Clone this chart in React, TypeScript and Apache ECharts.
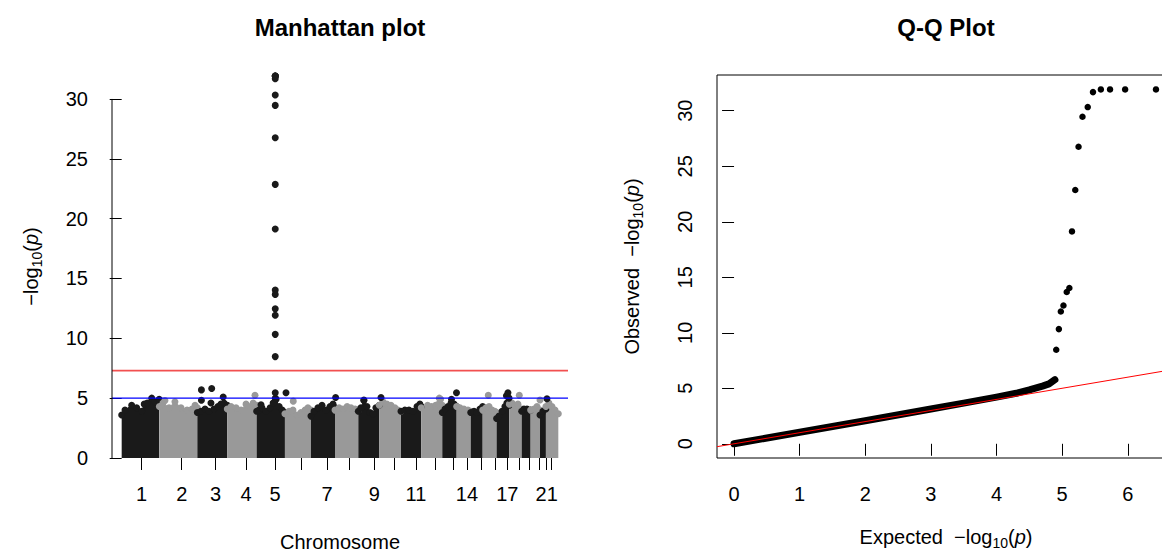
import { useEffect, useRef } from "react";
import * as echarts from "echarts";

// ---------------- Manhattan plot data ----------------
// chromosome tick positions (cumulative Mb) and their printed labels
const chrTickMb = [132, 397, 621, 822, 1013, 1185, 1357, 1504, 1670, 1800, 1945, 2075, 2192, 2282, 2377, 2469, 2549, 2626, 2694, 2758, 2809, 2839];
const chrTickLabels = ["1", "2", "3", "4", "5", "", "7", "", "9", "", "11", "", "", "14", "", "", "17", "", "", "", "21", ""];

// upper outline of the dense SNP cloud per chromosome: [cumulative Mb, -log10(p)]
const chr1Top = [[0, 3.6], [22, 4.0], [66, 4.4], [99, 4.2], [132, 3.9], [149, 4.5], [169, 4.6], [198, 5.0], [220, 4.7], [248, 4.9]];
const chr2Top = [[249, 4.3], [273, 4.6], [313, 4.2], [352, 4.7], [392, 4.2], [432, 4.0], [465, 4.1], [485, 4.4], [500, 4.2]];
const chr3Top = [[500, 3.8], [524, 3.9], [551, 4.1], [577, 3.9], [610, 4.1], [636, 4.3], [656, 4.5], [676, 4.6], [698, 4.4]];
const chr4Top = [[698, 4.1], [723, 4.3], [756, 4.2], [789, 4.0], [822, 4.5], [849, 4.3], [869, 4.6], [892, 4.4]];
const chr5Top = [[892, 3.9], [908, 4.0], [927, 4.2], [954, 3.9], [981, 4.2], [1001, 4.6], [1021, 4.9], [1041, 4.3], [1061, 4.0], [1079, 3.8]];
const chr6Top = [[1079, 3.7], [1106, 3.9], [1132, 4.0], [1159, 3.6], [1185, 3.8], [1212, 4.0], [1231, 4.2], [1251, 4.0]];
const chr7Top = [[1251, 3.5], [1271, 3.9], [1297, 4.2], [1324, 4.4], [1350, 4.0], [1377, 4.3], [1397, 4.5], [1410, 4.2]];
const chr8Top = [[1410, 4.0], [1437, 4.2], [1463, 4.1], [1490, 4.3], [1516, 4.2], [1543, 4.1], [1564, 4.0]];
const chr9Top = [[1564, 3.9], [1581, 4.2], [1601, 4.8], [1621, 4.3], [1641, 3.8], [1661, 3.7], [1680, 4.2], [1703, 4.4]];
const chr10Top = [[1703, 4.4], [1727, 4.7], [1753, 4.5], [1780, 4.4], [1806, 4.2], [1826, 4.0], [1846, 3.9]];
const chr11Top = [[1846, 3.9], [1872, 4.0], [1899, 4.0], [1925, 3.9], [1952, 4.3], [1971, 4.5], [1980, 4.3]];
const chr12Top = [[1980, 4.2], [2022, 4.4], [2048, 4.3], [2075, 4.4], [2095, 4.5], [2108, 4.9], [2119, 4.4]];
const chr13Top = [[2119, 3.8], [2137, 4.1], [2157, 4.3], [2177, 4.6], [2197, 4.5], [2214, 4.3]];
const chr14Top = [[2214, 4.3], [2236, 4.2], [2262, 4.1], [2289, 4.0], [2307, 3.9]];
const chr15Top = [[2307, 3.8], [2329, 3.9], [2348, 3.8], [2368, 4.1], [2386, 4.3]];
const chr16Top = [[2386, 4.0], [2408, 4.2], [2428, 4.3], [2448, 4.0], [2467, 3.9], [2478, 3.8]];
const chr17Top = [[2478, 3.3], [2494, 3.5], [2514, 3.9], [2533, 4.3], [2546, 4.6], [2562, 4.4]];
const chr18Top = [[2562, 4.5], [2580, 4.6], [2599, 4.4], [2619, 4.5], [2644, 4.1]];
const chr19Top = [[2644, 3.9], [2659, 4.1], [2679, 4.1], [2703, 4.0]];
const chr20Top = [[2703, 4.0], [2725, 4.1], [2745, 4.3], [2765, 4.0]];
const chr21Top = [[2765, 3.6], [2784, 3.9], [2804, 4.1]];
const chr22Top = [[2804, 4.3], [2824, 4.6], [2844, 4.3], [2864, 4.0], [2886, 3.7]];
const cloudTops = [chr1Top, chr2Top, chr3Top, chr4Top, chr5Top, chr6Top, chr7Top, chr8Top, chr9Top, chr10Top, chr11Top,
  chr12Top, chr13Top, chr14Top, chr15Top, chr16Top, chr17Top, chr18Top, chr19Top, chr20Top, chr21Top, chr22Top];

// isolated SNPs standing above the cloud
const darkPeaks = [[527, 5.69], [595, 5.8], [527, 4.83], [590, 4.6], [671, 5.1], [921, 4.45], [1015, 5.45], [1015, 5.0], [1086, 5.45],
  [1414, 5.05], [1601, 4.85], [1714, 5.05], [2180, 4.9], [2213, 5.45], [2543, 5.2], [2553, 5.45], [2560, 5.0], [2811, 4.95]];
const lightPeaks = [[286, 4.8], [881, 5.25], [1134, 4.75], [2099, 5.0], [2423, 5.25], [2628, 5.25], [2765, 4.85]];

// the chromosome 5 hit region (shared with the Q-Q plot)
const hitRegionMb = 1015;
const topHitObserved = [31.92, 31.92, 31.92, 31.92, 31.68, 30.33, 29.46, 26.76, 22.86, 19.13, 14.03, 13.67, 12.46, 11.92, 10.33, 8.47];
const topHitExpected = [6.43, 5.96, 5.73, 5.59, 5.47, 5.39, 5.31, 5.25, 5.2, 5.15, 5.11, 5.07, 5.02, 4.98, 4.95, 4.91];

const suggestiveLine = 5;
const genomewideLine = 7.3;
const manhattanYTicks = [0, 5, 10, 15, 20, 25, 30];

// ---------------- Q-Q plot data ----------------
const qqExpected = [0, 1, 2, 3, 3.5, 4, 4.3, 4.5, 4.7, 4.8, 4.89];
const qqObserved = [0, 1.04, 2.08, 3.13, 3.66, 4.2, 4.55, 4.85, 5.2, 5.4, 5.77];
const qqXTicks = [0, 1, 2, 3, 4, 5, 6];
const qqYTicks = [0, 5, 10, 15, 20, 25, 30];

// axis extents
const mhXMin = -64, mhXMax = 2950, mhYMax = 32;
const qqXMin = -0.26, qqXMax = 6.72, qqYMin = -1.28, qqYMax = 33.22;

const FONT = "'Liberation Sans', Arial, Helvetica, sans-serif";
const DARK = "#1a1a1a";
const LIGHT = "#999999";

const nameStyle = {
  fontSize: 20,
  fontFamily: FONT,
  color: "#000",
  lineHeight: 26,
  rich: {
    sub: { fontSize: 14, fontFamily: FONT, color: "#000", verticalAlign: "bottom", lineHeight: 26 },
    it: { fontSize: 20, fontFamily: FONT, color: "#000", fontStyle: "italic", lineHeight: 26 },
  },
};
const plainNameStyle = { fontSize: 20, fontFamily: FONT, color: "#000", lineHeight: 20 };
const logName = (prefix: string) => `${prefix}\u2212log{sub|10}({it|p})`;

function buildOption() {
  const series: any[] = [];
  cloudTops.forEach((pts, i) => {
    const c = i % 2 === 0 ? DARK : LIGHT;
    series.push({
      type: "line", xAxisIndex: 0, yAxisIndex: 0, data: pts,
      symbol: "circle", symbolSize: 7, showSymbol: true,
      itemStyle: { color: c, opacity: 1 }, lineStyle: { color: c, width: 1 },
      areaStyle: { color: c, opacity: 1 }, silent: true, z: 2,
    });
  });
  series.push({ type: "scatter", xAxisIndex: 0, yAxisIndex: 0, data: lightPeaks, symbolSize: 7, itemStyle: { color: LIGHT, opacity: 1 }, silent: true, z: 3 });
  series.push({ type: "scatter", xAxisIndex: 0, yAxisIndex: 0, data: darkPeaks, symbolSize: 7, itemStyle: { color: DARK, opacity: 1 }, silent: true, z: 3 });
  series.push({
    type: "scatter", xAxisIndex: 0, yAxisIndex: 0, data: topHitObserved.map((v) => [hitRegionMb, v]),
    symbolSize: 7, itemStyle: { color: DARK, opacity: 1 }, silent: true, z: 3,
  });
  series.push({
    type: "line", xAxisIndex: 0, yAxisIndex: 0, data: [[mhXMin, suggestiveLine], [mhXMax, suggestiveLine]],
    symbol: "none", lineStyle: { color: "#0000ff", width: 1.3 }, silent: true, z: 4,
  });
  series.push({
    type: "line", xAxisIndex: 0, yAxisIndex: 0, data: [[mhXMin, genomewideLine], [mhXMax, genomewideLine]],
    symbol: "none", lineStyle: { color: "#f25050", width: 1.6 }, silent: true, z: 4,
  });
  series.push({
    type: "line", xAxisIndex: 0, yAxisIndex: 0,
    data: [[mhXMin, manhattanYTicks[0]], [mhXMin, manhattanYTicks[manhattanYTicks.length - 1]]],
    symbol: "none", lineStyle: { color: "#000", width: 1 }, silent: true, z: 5, clip: false,
  });

  // Q-Q
  series.push({
    type: "line", xAxisIndex: 1, yAxisIndex: 1, data: qqExpected.map((x, i) => [x, qqObserved[i]]),
    symbol: "none", lineStyle: { color: "#000", width: 7, cap: "round", join: "round" }, silent: true, z: 2,
  });
  series.push({
    type: "scatter", xAxisIndex: 1, yAxisIndex: 1, data: topHitExpected.map((x, i) => [x, topHitObserved[i]]),
    symbolSize: 6.5, itemStyle: { color: "#000", opacity: 1 }, silent: true, z: 3,
  });
  series.push({
    type: "line", xAxisIndex: 1, yAxisIndex: 1, data: [[qqXMin, qqXMin], [qqXMax, qqXMax]],
    symbol: "none", lineStyle: { color: "#ff0000", width: 1 }, silent: true, z: 4,
  });

  const chrLabelMb = chrTickMb.filter((_, i) => chrTickLabels[i] !== "");
  const tickStyle = { show: true, length: 12, inside: false, lineStyle: { color: "#000", width: 1 } };
  const labelBase = { fontSize: 20, fontFamily: FONT, color: "#000" };

  return {
    animation: false,
    backgroundColor: "#ffffff",
    textStyle: { fontFamily: FONT },
    grid: [
      { left: 112, top: 75, width: 456, height: 383, outerBoundsMode: "none", containLabel: false },
      {
        left: 717, top: 75, width: 458, height: 383, show: true, borderColor: "#000", borderWidth: 1,
        backgroundColor: "transparent", outerBoundsMode: "none", containLabel: false,
      },
    ],
    xAxis: [
      {
        gridIndex: 0, type: "value", min: mhXMin, max: mhXMax,
        axisLine: { show: false }, splitLine: { show: false },
        axisTick: { ...tickStyle, customValues: chrTickMb },
        axisLabel: {
          ...labelBase, margin: 26, customValues: chrLabelMb,
          formatter: (v: number) => chrTickLabels[chrTickMb.indexOf(v)] ?? "",
        },
        name: "Chromosome", nameLocation: "middle", nameGap: 74, nameTextStyle: plainNameStyle,
      },
      {
        gridIndex: 1, type: "value", min: qqXMin, max: qqXMax,
        axisLine: { show: false }, splitLine: { show: false },
        axisTick: { ...tickStyle, customValues: qqXTicks },
        axisLabel: { ...labelBase, margin: 26, customValues: qqXTicks },
        name: logName("Expected  "), nameLocation: "middle", nameGap: 66, nameTextStyle: nameStyle,
      },
    ],
    yAxis: [
      {
        gridIndex: 0, type: "value", min: 0, max: mhYMax,
        axisLine: { show: false }, splitLine: { show: false },
        axisTick: { ...tickStyle, customValues: manhattanYTicks },
        axisLabel: { ...labelBase, margin: 24, customValues: manhattanYTicks },
        name: logName(""), nameLocation: "middle", nameGap: 68, nameRotate: 90, nameTextStyle: nameStyle,
      },
      {
        gridIndex: 1, type: "value", min: qqYMin, max: qqYMax,
        axisLine: { show: false }, splitLine: { show: false },
        axisTick: { ...tickStyle, customValues: qqYTicks },
        axisLabel: { ...labelBase, margin: 22, rotate: 90, customValues: qqYTicks },
        name: logName("Observed  "), nameLocation: "middle", nameGap: 72, nameRotate: 90, nameTextStyle: nameStyle,
      },
    ],
    graphic: [
      {
        type: "text", x: 340, y: 27,
        style: { text: "Manhattan plot", fontSize: 24, fontWeight: "bold", fontFamily: FONT, fill: "#000", align: "center", verticalAlign: "middle" },
      },
      {
        type: "text", x: 946, y: 27,
        style: { text: "Q-Q Plot", fontSize: 24, fontWeight: "bold", fontFamily: FONT, fill: "#000", align: "center", verticalAlign: "middle" },
      },
    ],
    series,
  };
}

export default function App() {
  const ref = useRef<HTMLDivElement>(null);
  useEffect(() => {
    const chart = echarts.init(ref.current!, null, { renderer: "svg" });
    chart.setOption(buildOption() as any);
    return () => chart.dispose();
  }, []);
  return (
    <div
      ref={ref}
      style={{ position: "fixed", left: 0, top: 0, width: 1162, height: 552, background: "#fff" }}
    />
  );
}
